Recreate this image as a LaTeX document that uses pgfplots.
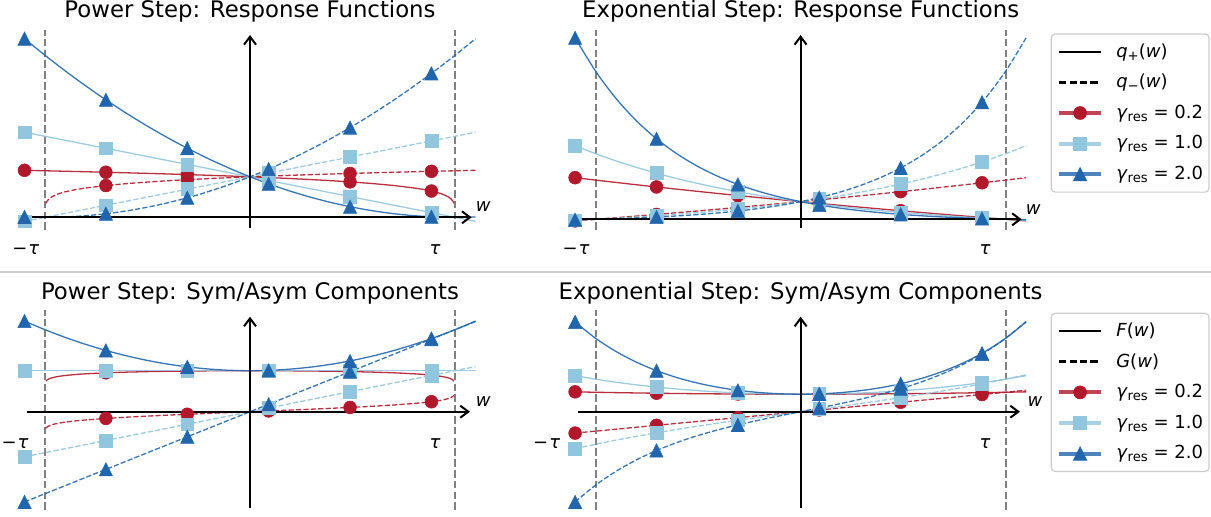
\documentclass[border=0pt]{standalone}
\usepackage{fontspec}
\setmainfont{DejaVu Sans}[ItalicFont={DejaVu Sans Oblique}]
\usepackage{pgfplots}
\pgfplotsset{compat=1.18}
\usetikzlibrary{arrows.meta}

\definecolor{cred}{HTML}{B2182B}
\definecolor{clight}{HTML}{92C5DE}
\definecolor{cblue}{HTML}{2166AC}

% matplotlib-like triangle (width = height)
\pgfdeclareplotmark{tri}{%
  \pgfpathmoveto{\pgfqpoint{0pt}{\pgfplotmarksize}}%
  \pgfpathlineto{\pgfqpoint{-\pgfplotmarksize}{-\pgfplotmarksize}}%
  \pgfpathlineto{\pgfqpoint{\pgfplotmarksize}{-\pgfplotmarksize}}%
  \pgfpathclose\pgfusepathqfillstroke}

\tikzset{
  cR/.style={color=cred, mark=*, mark size=3.2pt},
  cL/.style={color=clight, mark=square*, mark size=3.2pt},
  cB/.style={color=cblue, mark=tri, mark size=3.3pt},
  tauline/.style={draw=black!50, line width=0.9pt, dash pattern=on 3.8pt off 1.6pt},
  axarrow/.style={draw=black, line width=1pt, -{Straight Barb[length=4pt,width=6pt]}},
}
\pgfplotsset{
  panel/.style={scale only axis, width=246pt, height=100pt, hide axis, clip=false,
    xmin=-1.2, xmax=1.2, anchor=south west,
    legend image code/.code={\draw[##1] (0pt,0pt) -- (20.8pt,0pt);
      \draw[##1, draw opacity=1, mark options={line width=0.4pt}] plot coordinates {(10.4pt,0pt)};},
    legend cell align=left,
    legend style={anchor=north west, draw=black!20, rounded corners=2pt, line width=0.6pt,
      inner xsep=3pt, inner ysep=1.3pt, row sep=0pt, column sep=6.7pt,
      nodes={inner sep=0pt, minimum height=15.3pt}, font=\fontsize{9}{10.8}\selectfont}},
  sol/.style={forget plot, mark=none, line width=0.65pt, draw opacity=0.9},
  dsh/.style={sol, dash pattern=on 2.6pt off 1.1pt},
  mk/.style={forget plot, only marks, mark options={line width=0.3pt}},
}

\newcommand{\taulines}{%
  \draw[tauline] ({axis cs:-1,0}|-{rel axis cs:0,0}) -- ({axis cs:-1,0}|-{rel axis cs:0,1});
  \draw[tauline] ({axis cs:1,0}|-{rel axis cs:0,0}) -- ({axis cs:1,0}|-{rel axis cs:0,1});}
\newcommand{\axarrows}[4]{%
  \draw[axarrow] (axis cs:#1,0) -- (axis cs:#2,0);
  \draw[axarrow] ({axis cs:0,0}|-{rel axis cs:0,#3}) -- ({axis cs:0,0}|-{rel axis cs:0,#4});}
\newcommand{\sub}[1]{\raisebox{-0.3ex}{\fontsize{6.6}{7}\selectfont #1}}

\begin{document}
\begin{tikzpicture}[font=\fontsize{9}{10.8}\selectfont]
\useasboundingbox (0,0) rectangle (605.5pt,258pt);

% ---------- Power step: response functions
\begin{axis}[panel, at={(2pt,143pt)}, ymin=-0.3136, ymax=4.6247]
\taulines
\addplot[cR, sol] coordinates {(-1.1,1.1600)(-1.0,1.1487)(-0.9,1.1370)(-0.8,1.1247)(-0.7,1.1120)(-0.6,1.0986)(-0.5,1.0845)(-0.4,1.0696)(-0.3,1.0539)(-0.2,1.0371)(-0.1,1.0192)(0,1)(0.1,0.9791)(0.2,0.9564)(0.3,0.9311)(0.4,0.9029)(0.5,0.8706)(0.6,0.8326)(0.7,0.7860)(0.8,0.7248)(0.85,0.6843)(0.9,0.6310)(0.93,0.5875)(0.95,0.5493)(0.97,0.4959)(0.98,0.4573)(0.99,0.3981)(0.995,0.3466)};
\addplot[cR, mk] coordinates {(-1.1,1.1600)(-0.703,1.1124)(-0.306,1.0548)(0.091,0.9811)(0.488,0.8747)(0.885,0.6489)};
\addplot[cR, dsh] coordinates {(-0.995,0.3466)(-0.99,0.3981)(-0.98,0.4573)(-0.97,0.4959)(-0.95,0.5493)(-0.93,0.5875)(-0.9,0.6310)(-0.85,0.6843)(-0.8,0.7248)(-0.7,0.7860)(-0.6,0.8326)(-0.5,0.8706)(-0.4,0.9029)(-0.3,0.9311)(-0.2,0.9564)(-0.1,0.9791)(0,1)(0.1,1.0192)(0.2,1.0371)(0.3,1.0539)(0.4,1.0696)(0.5,1.0845)(0.6,1.0986)(0.7,1.1120)(0.8,1.1247)(0.9,1.1370)(1.0,1.1487)(1.1,1.1600)};
\addplot[cR, mk] coordinates {(-0.703,0.7845)(-0.306,0.9296)(0.091,1.0176)(0.488,1.0827)(0.885,1.1352)};
\addplot[cL, sol] coordinates {(-1.1,2.1)(1.1,-0.1)};
\addplot[cL, mk] coordinates {(-1.1,2.1)(-0.703,1.703)(-0.306,1.306)(0.091,0.909)(0.488,0.512)(0.885,0.115)};
\addplot[cL, dsh] coordinates {(-1.1,-0.1)(1.1,2.1)};
\addplot[cL, mk] coordinates {(-1.1,-0.1)(-0.703,0.297)(-0.306,0.694)(0.091,1.091)(0.488,1.488)(0.885,1.885)};
\addplot[cB, sol, smooth] coordinates {(-1.1,4.41)(-1.0,4)(-0.9,3.61)(-0.8,3.24)(-0.7,2.89)(-0.6,2.56)(-0.5,2.25)(-0.4,1.96)(-0.3,1.69)(-0.2,1.44)(-0.1,1.21)(0,1)(0.1,0.81)(0.2,0.64)(0.3,0.49)(0.4,0.36)(0.5,0.25)(0.6,0.16)(0.7,0.09)(0.8,0.04)(0.9,0.01)(1.0,0)(1.1,0.01)};
\addplot[cB, mk] coordinates {(-1.1,4.41)(-0.703,2.9002)(-0.306,1.7056)(0.091,0.8263)(0.488,0.2621)(0.885,0.0132)};
\addplot[cB, dsh, smooth] coordinates {(-1.1,0.01)(-1.0,0)(-0.9,0.01)(-0.8,0.04)(-0.7,0.09)(-0.6,0.16)(-0.5,0.25)(-0.4,0.36)(-0.3,0.49)(-0.2,0.64)(-0.1,0.81)(0,1)(0.1,1.21)(0.2,1.44)(0.3,1.69)(0.4,1.96)(0.5,2.25)(0.6,2.56)(0.7,2.89)(0.8,3.24)(0.9,3.61)(1.0,4)(1.1,4.41)};
\addplot[cB, mk] coordinates {(-1.1,0.01)(-0.703,0.0882)(-0.306,0.4816)(0.091,1.1903)(0.488,2.2141)(0.885,3.5532)};
\axarrows{-1.088}{1.081}{0.01}{0.975}
\end{axis}

% ---------- Exponential step: response functions
\begin{axis}[panel, at={(277.3pt,143pt)}, ymin=-0.6062, ymax=10.725,
  legend style={at={(1.0083,0.9835)}}]
\addlegendimage{black, line width=1.3pt}
\addlegendentry{\textit{q}\sub{+}(\textit{w})}
\addlegendimage{black, line width=1.3pt, dash pattern=on 3.6pt off 1.6pt}
\addlegendentry{\textit{q}\sub{−}(\textit{w})}
\addlegendimage{cR, line width=2pt, draw opacity=0.8}
\addlegendentry{\textit{γ}\sub{res} = 0.2}
\addlegendimage{cL, line width=2pt, draw opacity=0.8}
\addlegendentry{\textit{γ}\sub{res} = 1.0}
\addlegendimage{cB, line width=2pt, draw opacity=0.8}
\addlegendentry{\textit{γ}\sub{res} = 2.0}
\taulines
\addplot[cR, sol, smooth] coordinates {(-1.1,2.35752)(-1.0,2.22140)(-0.9,2.08798)(-0.8,1.95720)(-0.7,1.82901)(-0.6,1.70336)(-0.5,1.58019)(-0.4,1.45947)(-0.3,1.34113)(-0.2,1.22514)(-0.1,1.11144)(0,1)(0.1,0.89076)(0.2,0.78369)(0.3,0.67874)(0.4,0.57586)(0.5,0.47502)(0.6,0.37618)(0.7,0.27930)(0.8,0.18433)(0.9,0.09124)(1.0,0)(1.1,-0.08943)};
\addplot[cR, mk] coordinates {(-1.1,2.3575)(-0.703,1.8328)(-0.306,1.3482)(0.091,0.9005)(0.488,0.4870)(0.885,0.1051)};
\addplot[cR, dsh, smooth] coordinates {(-1.1,-0.08943)(-1.0,0)(-0.9,0.09124)(-0.8,0.18433)(-0.7,0.27930)(-0.6,0.37618)(-0.5,0.47502)(-0.4,0.57586)(-0.3,0.67874)(-0.2,0.78369)(-0.1,0.89076)(0,1)(0.1,1.11144)(0.2,1.22514)(0.3,1.34113)(0.4,1.45947)(0.5,1.58019)(0.6,1.70336)(0.7,1.82901)(0.8,1.95720)(0.9,2.08798)(1.0,2.22140)(1.1,2.35752)};
\addplot[cR, mk] coordinates {(-1.1,-0.0894)(-0.703,0.2764)(-0.306,0.6725)(0.091,1.1013)(0.488,1.5656)(0.885,2.0682)};
\addplot[cL, sol, smooth] coordinates {(-1.1,4.17055)(-1.0,3.71828)(-0.9,3.30905)(-0.8,2.93878)(-0.7,2.60374)(-0.6,2.30058)(-0.5,2.02627)(-0.4,1.77807)(-0.3,1.55347)(-0.2,1.35025)(-0.1,1.16638)(0,1)(0.1,0.84946)(0.2,0.71324)(0.3,0.58998)(0.4,0.47846)(0.5,0.37754)(0.6,0.28623)(0.7,0.20361)(0.8,0.12885)(0.9,0.06121)(1.0,0)(1.1,-0.05538)};
\addplot[cL, mk] coordinates {(-1.1,4.1706)(-0.703,2.6133)(-0.306,1.5663)(0.091,0.8624)(0.488,0.3891)(0.885,0.0709)};
\addplot[cL, dsh, smooth] coordinates {(-1.1,-0.05538)(-1.0,0)(-0.9,0.06121)(-0.8,0.12885)(-0.7,0.20361)(-0.6,0.28623)(-0.5,0.37754)(-0.4,0.47846)(-0.3,0.58998)(-0.2,0.71324)(-0.1,0.84946)(0,1)(0.1,1.16638)(0.2,1.35025)(0.3,1.55347)(0.4,1.77807)(0.5,2.02627)(0.6,2.30058)(0.7,2.60374)(0.8,2.93878)(0.9,3.30905)(1.0,3.71828)(1.1,4.17055)};
\addplot[cL, mk] coordinates {(-1.1,-0.0554)(-0.703,0.2013)(-0.306,0.5830)(0.091,1.1507)(0.488,1.9952)(0.885,3.2511)};
\addplot[cB, sol, smooth] coordinates {(-1.1,10.28107)(-1.0,8.38904)(-0.9,6.84000)(-0.8,5.57177)(-0.7,4.53341)(-0.6,3.68325)(-0.5,2.98722)(-0.4,2.41736)(-0.3,1.95078)(-0.2,1.56880)(-0.1,1.25606)(0,1)(0.1,0.79036)(0.2,0.61872)(0.3,0.47819)(0.4,0.36314)(0.5,0.26894)(0.6,0.19182)(0.7,0.12868)(0.8,0.07698)(0.9,0.03465)(1.0,0)(1.1,-0.02837)};
\addplot[cB, mk] coordinates {(-1.1,10.2811)(-0.703,4.5616)(-0.306,1.9762)(0.091,0.8076)(0.488,0.2793)(0.885,0.0405)};
\addplot[cB, dsh, smooth] coordinates {(-1.1,-0.02837)(-1.0,0)(-0.9,0.03465)(-0.8,0.07698)(-0.7,0.12868)(-0.6,0.19182)(-0.5,0.26894)(-0.4,0.36314)(-0.3,0.47819)(-0.2,0.61872)(-0.1,0.79036)(0,1)(0.1,1.25606)(0.2,1.56880)(0.3,1.95078)(0.4,2.41736)(0.5,2.98722)(0.6,3.68325)(0.7,4.53341)(0.8,5.57177)(0.9,6.84000)(1.0,8.38904)(1.1,10.28107)};
\addplot[cB, mk] coordinates {(-1.1,-0.0284)(-0.703,0.1270)(-0.306,0.4706)(0.091,1.2309)(0.488,2.9127)(0.885,6.6332)};
\axarrows{-1.084}{1.079}{0.01}{0.975}
\end{axis}

% ---------- Power step: sym/asym components
\begin{axis}[panel, at={(2pt,3pt)}, ymin=-2.3976, ymax=2.4805]
\taulines
\addplot[cR, sol] coordinates {(-0.995,0.7474)(-0.99,0.7728)(-0.98,0.8019)(-0.97,0.8206)(-0.95,0.8461)(-0.93,0.8640)(-0.9,0.8840)(-0.85,0.9076)(-0.8,0.9248)(-0.7,0.9490)(-0.6,0.9656)(-0.5,0.9776)(-0.4,0.9863)(-0.3,0.9925)(-0.2,0.9968)(-0.1,0.9992)(0,1)(0.1,0.9992)(0.2,0.9968)(0.3,0.9925)(0.4,0.9863)(0.5,0.9776)(0.6,0.9656)(0.7,0.9490)(0.8,0.9248)(0.85,0.9076)(0.9,0.8840)(0.93,0.8640)(0.95,0.8461)(0.97,0.8206)(0.98,0.8019)(0.99,0.7728)(0.995,0.7474)};
\addplot[cR, mk] coordinates {(-0.703,0.9484)(-0.306,0.9922)(0.091,0.9993)(0.488,0.9787)(0.885,0.8920)};
\addplot[cR, dsh] coordinates {(-0.995,-0.4008)(-0.99,-0.3747)(-0.98,-0.3446)(-0.97,-0.3247)(-0.95,-0.2968)(-0.93,-0.2765)(-0.9,-0.2530)(-0.85,-0.2233)(-0.8,-0.2000)(-0.7,-0.1630)(-0.6,-0.1330)(-0.5,-0.1070)(-0.4,-0.0834)(-0.3,-0.0614)(-0.2,-0.0404)(-0.1,-0.0201)(0,0)(0.1,0.0201)(0.2,0.0404)(0.3,0.0614)(0.4,0.0834)(0.5,0.1070)(0.6,0.1330)(0.7,0.1630)(0.8,0.2000)(0.85,0.2233)(0.9,0.2530)(0.93,0.2765)(0.95,0.2968)(0.97,0.3247)(0.98,0.3446)(0.99,0.3747)(0.995,0.4008)};
\addplot[cR, mk] coordinates {(-0.703,-0.1640)(-0.306,-0.0627)(0.091,0.0182)(0.488,0.1040)(0.885,0.2432)};
\addplot[cL, sol] coordinates {(-1.1,1)(1.1,1)};
\addplot[cL, mk] coordinates {(-1.1,1)(-0.703,1)(-0.306,1)(0.091,1)(0.488,1)(0.885,1)};
\addplot[cL, dsh] coordinates {(-1.1,-1.1)(1.1,1.1)};
\addplot[cL, mk] coordinates {(-1.1,-1.1)(-0.703,-0.703)(-0.306,-0.306)(0.091,0.091)(0.488,0.488)(0.885,0.885)};
\addplot[cB, sol, smooth] coordinates {(-1.1,2.21)(-1.0,2)(-0.9,1.81)(-0.8,1.64)(-0.7,1.49)(-0.6,1.36)(-0.5,1.25)(-0.4,1.16)(-0.3,1.09)(-0.2,1.04)(-0.1,1.01)(0,1)(0.1,1.01)(0.2,1.04)(0.3,1.09)(0.4,1.16)(0.5,1.25)(0.6,1.36)(0.7,1.49)(0.8,1.64)(0.9,1.81)(1.0,2)(1.1,2.21)};
\addplot[cB, mk] coordinates {(-1.1,2.21)(-0.703,1.4942)(-0.306,1.0936)(0.091,1.0083)(0.488,1.2381)(0.885,1.7832)};
\addplot[cB, dsh] coordinates {(-1.1,-2.2)(1.1,2.2)};
\addplot[cB, mk] coordinates {(-1.1,-2.2)(-0.703,-1.406)(-0.306,-0.612)(0.091,0.182)(0.488,0.976)(0.885,1.77)};
\axarrows{-1.089}{1.073}{0.0085}{0.9665}
\end{axis}

% ---------- Exponential step: sym/asym components
\begin{axis}[panel, at={(277.3pt,3pt)}, ymin=-5.617, ymax=5.811,
  legend style={at={(1.0083,0.9865)}}]
\addlegendimage{black, line width=1.3pt}
\addlegendentry{\textit{F}(\textit{w})}
\addlegendimage{black, line width=1.3pt, dash pattern=on 3.6pt off 1.6pt}
\addlegendentry{\textit{G}(\textit{w})}
\addlegendimage{cR, line width=2pt, draw opacity=0.8}
\addlegendentry{\textit{γ}\sub{res} = 0.2}
\addlegendimage{cL, line width=2pt, draw opacity=0.8}
\addlegendentry{\textit{γ}\sub{res} = 1.0}
\addlegendimage{cB, line width=2pt, draw opacity=0.8}
\addlegendentry{\textit{γ}\sub{res} = 2.0}
\taulines
\addplot[cR, sol, smooth] coordinates {(-1.1,1.13405)(-1.0,1.11070)(-0.9,1.08961)(-0.8,1.07077)(-0.7,1.05416)(-0.6,1.03977)(-0.5,1.02761)(-0.4,1.01767)(-0.3,1.00994)(-0.2,1.00442)(-0.1,1.00110)(0,1)(0.1,1.00110)(0.2,1.00442)(0.3,1.00994)(0.4,1.01767)(0.5,1.02761)(0.6,1.03977)(0.7,1.05416)(0.8,1.07077)(0.9,1.08961)(1.0,1.11070)(1.1,1.13405)};
\addplot[cR, mk] coordinates {(-1.1,1.1341)(-0.703,1.0546)(-0.306,1.0103)(0.091,1.0009)(0.488,1.0263)(0.885,1.0867)};
\addplot[cR, dsh, smooth] coordinates {(-1.1,-1.22348)(-1.0,-1.11070)(-0.9,-0.99837)(-0.8,-0.88644)(-0.7,-0.77486)(-0.6,-0.66359)(-0.5,-0.55259)(-0.4,-0.44181)(-0.3,-0.33120)(-0.2,-0.22073)(-0.1,-0.11034)(0,0)(0.1,0.11034)(0.2,0.22073)(0.3,0.33120)(0.4,0.44181)(0.5,0.55259)(0.6,0.66359)(0.7,0.77486)(0.8,0.88644)(0.9,0.99837)(1.0,1.11070)(1.1,1.22348)};
\addplot[cR, mk] coordinates {(-1.1,-1.2235)(-0.703,-0.7782)(-0.306,-0.3378)(0.091,0.1004)(0.488,0.5393)(0.885,0.9816)};
\addplot[cL, sol, smooth] coordinates {(-1.1,2.05759)(-1.0,1.85914)(-0.9,1.68513)(-0.8,1.53382)(-0.7,1.40368)(-0.6,1.29341)(-0.5,1.20191)(-0.4,1.12827)(-0.3,1.07173)(-0.2,1.03175)(-0.1,1.00792)(0,1)(0.1,1.00792)(0.2,1.03175)(0.3,1.07173)(0.4,1.12827)(0.5,1.20191)(0.6,1.29341)(0.7,1.40368)(0.8,1.53382)(0.9,1.68513)(1.0,1.85914)(1.1,2.05759)};
\addplot[cL, mk] coordinates {(-1.1,2.0576)(-0.703,1.4073)(-0.306,1.0747)(0.091,1.0066)(0.488,1.1921)(0.885,1.6610)};
\addplot[cL, dsh, smooth] coordinates {(-1.1,-2.11297)(-1.0,-1.85914)(-0.9,-1.62392)(-0.8,-1.40497)(-0.7,-1.20007)(-0.6,-1.00718)(-0.5,-0.82437)(-0.4,-0.64981)(-0.3,-0.48175)(-0.2,-0.31851)(-0.1,-0.15846)(0,0)(0.1,0.15846)(0.2,0.31851)(0.3,0.48175)(0.4,0.64981)(0.5,0.82437)(0.6,1.00718)(0.7,1.20007)(0.8,1.40497)(0.9,1.62392)(1.0,1.85914)(1.1,2.11297)};
\addplot[cL, mk] coordinates {(-1.1,-2.1130)(-0.703,-1.2060)(-0.306,-0.4917)(0.091,0.1442)(0.488,0.8030)(0.885,1.5901)};
\addplot[cB, sol, smooth] coordinates {(-1.1,5.12635)(-1.0,4.19452)(-0.9,3.43733)(-0.8,2.82438)(-0.7,2.33105)(-0.6,1.93754)(-0.5,1.62808)(-0.4,1.39025)(-0.3,1.21449)(-0.2,1.09376)(-0.1,1.02321)(0,1)(0.1,1.02321)(0.2,1.09376)(0.3,1.21449)(0.4,1.39025)(0.5,1.62808)(0.6,1.93754)(0.7,2.33105)(0.8,2.82438)(0.9,3.43733)(1.0,4.19452)(1.1,5.12635)};
\addplot[cB, mk] coordinates {(-1.1,5.1264)(-0.703,2.3443)(-0.306,1.2234)(0.091,1.0192)(0.488,1.5960)(0.885,3.3369)};
\addplot[cB, dsh, smooth] coordinates {(-1.1,-5.15472)(-1.0,-4.19452)(-0.9,-3.40268)(-0.8,-2.74740)(-0.7,-2.20237)(-0.6,-1.74572)(-0.5,-1.35914)(-0.4,-1.02711)(-0.3,-0.73630)(-0.2,-0.47504)(-0.1,-0.23285)(0,0)(0.1,0.23285)(0.2,0.47504)(0.3,0.73630)(0.4,1.02711)(0.5,1.35914)(0.6,1.74572)(0.7,2.20237)(0.8,2.74740)(0.9,3.40268)(1.0,4.19452)(1.1,5.15472)};
\addplot[cB, mk] coordinates {(-1.1,-5.1547)(-0.703,-2.2173)(-0.306,-0.7528)(0.091,0.2117)(0.488,1.3167)(0.885,3.2964)};
\axarrows{-1.084}{1.070}{0.0085}{0.9665}
\end{axis}

% separator between the two rows
\draw[black!20, line width=1pt] (0,122pt) -- (605.5pt,122pt);

% titles
\begin{scope}[every node/.style={inner sep=0pt, anchor=base, font=\fontsize{11.4}{13}\selectfont}]
\node at (125pt,249.25pt) {Power Step: Response Functions};
\node at (400.3pt,249.25pt) {Exponential Step: Response Functions};
\node at (125pt,108.35pt) {Power Step: Sym/Asym Components};
\node at (400.3pt,108.35pt) {Exponential Step: Sym/Asym Components};
\end{scope}

% tau and w labels
\begin{scope}[every node/.style={inner sep=0pt, anchor=base}]
\node at (12.9pt,130.75pt) {−\kern0.5pt\textit{τ}};
\node at (217.5pt,130.75pt) {\textit{τ}};
\node at (241.65pt,152.15pt) {\textit{w}};
\node at (288pt,130.75pt) {−\kern0.5pt\textit{τ}};
\node at (492.5pt,130.75pt) {\textit{τ}};
\node at (516.65pt,151pt) {\textit{w}};
\node at (7.5pt,34pt) {−\kern0.5pt\textit{τ}};
\node at (217.5pt,34pt) {\textit{τ}};
\node at (241.65pt,54.65pt) {\textit{w}};
\node at (273.35pt,34pt) {−\kern0.5pt\textit{τ}};
\node at (492.5pt,34pt) {\textit{τ}};
\node at (517.5pt,54.65pt) {\textit{w}};
\end{scope}
\end{tikzpicture}
\end{document}
